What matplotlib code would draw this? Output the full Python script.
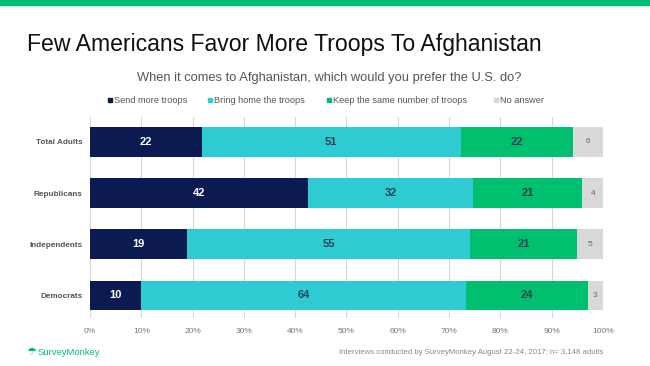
import matplotlib
matplotlib.use("Agg")
import matplotlib.pyplot as plt
import numpy as np

plt.rcParams['font.family'] = ['Liberation Sans', 'DejaVu Sans']

categories = ["Total Adults", "Republicans", "Independents", "Democrats"]
series_names = ["Send more troops", "Bring home the troops",
                "Keep the same number of troops", "No answer"]
send_more = [22, 42, 19, 10]
bring_home = [51, 32, 55, 64]
keep_same = [22, 21, 21, 24]
no_answer = [6, 4, 5, 3]
ticks = [0, 10, 20, 30, 40, 50, 60, 70, 80, 90, 100]

colors = ["#0B1A50", "#2FCBD3", "#00BF6F", "#D9D9D9"]
label_colors = ["white", "#2B4250", "#2B4250", "#666666"]
label_sizes = [8, 8, 8, 6]
label_weights = ["bold", "bold", "bold", "normal"]

W, H = 650, 366
fig = plt.figure(figsize=(W / 100, H / 100), dpi=100)

# top green band
fig.patches.append(plt.Rectangle((0, 1 - 5 / H), 1, 5 / H, transform=fig.transFigure,
                                 color="#00BF6F", zorder=0))

ax = fig.add_axes([90 / W, 1 - 318 / H, (603 - 90) / W, (318 - 117) / H])

data = np.array([send_more, bring_home, keep_same, no_answer], dtype=float)
totals = data.sum(axis=0)
norm = data / totals * 100
y = np.arange(len(categories))
left = np.zeros(len(categories))
for i in range(len(series_names)):
    ax.barh(y, norm[i], left=left, height=0.57, color=colors[i], zorder=3)
    for j in range(len(categories)):
        ax.text(left[j] + norm[i][j] / 2, y[j], f"{int(data[i][j])}",
                ha="center", va="center", color=label_colors[i],
                fontsize=label_sizes[i], fontweight=label_weights[i], zorder=4)
    left += norm[i]

ax.set_xlim(0, 100)
ax.set_ylim(3.45, -0.49)
ax.set_xticks(ticks)
ax.set_xticklabels([f"{t}%" for t in ticks], fontsize=6, color="#777777")
ax.set_yticks(y)
ax.set_yticklabels(categories, fontsize=5.9, color="#555555", fontweight="bold")
ax.tick_params(axis="both", length=0)
ax.tick_params(axis="x", pad=7)
ax.tick_params(axis="y", pad=5.5)
for s in ax.spines.values():
    s.set_visible(False)
ax.grid(axis="x", color="#D8D8D8", linewidth=0.8, zorder=0)
ax.set_axisbelow(True)

fig.text(27 / W, 1 - 44 / H, "Few Americans Favor More Troops To Afghanistan",
         fontsize=16.6, color="#111111", va="center", ha="left")
fig.text(329 / W, 1 - 78 / H, "When it comes to Afghanistan, which would you prefer the U.S. do?",
         fontsize=9.3, color="#555555", va="center", ha="center")

# legend
leg_x = [110, 210, 329, 496]
for xp, name, c in zip(leg_x, series_names, colors):
    fig.patches.append(plt.Rectangle(((xp - 2) / W, 1 - 102 / H), 4 / W, 4 / H,
                                     transform=fig.transFigure, color=c))
    fig.text((xp + 4) / W, 1 - 100.5 / H, name, fontsize=6.6, color="#555555",
             va="center", ha="left")

fig.text(26 / W, 1 - 352 / H, "\u2602", fontsize=8, color="#00BF6F", va="center", ha="left")
fig.text(38 / W, 1 - 352.5 / H, "SurveyMonkey", fontsize=6.8, color="#00BF6F",
         va="center", ha="left")
fig.text(603 / W, 1 - 352 / H,
         "Interviews conducted by SurveyMonkey August 22-24, 2017; n= 3,148 adults",
         fontsize=5.55, color="#888888", va="center", ha="right")

fig.savefig("out.png", dpi=100)
